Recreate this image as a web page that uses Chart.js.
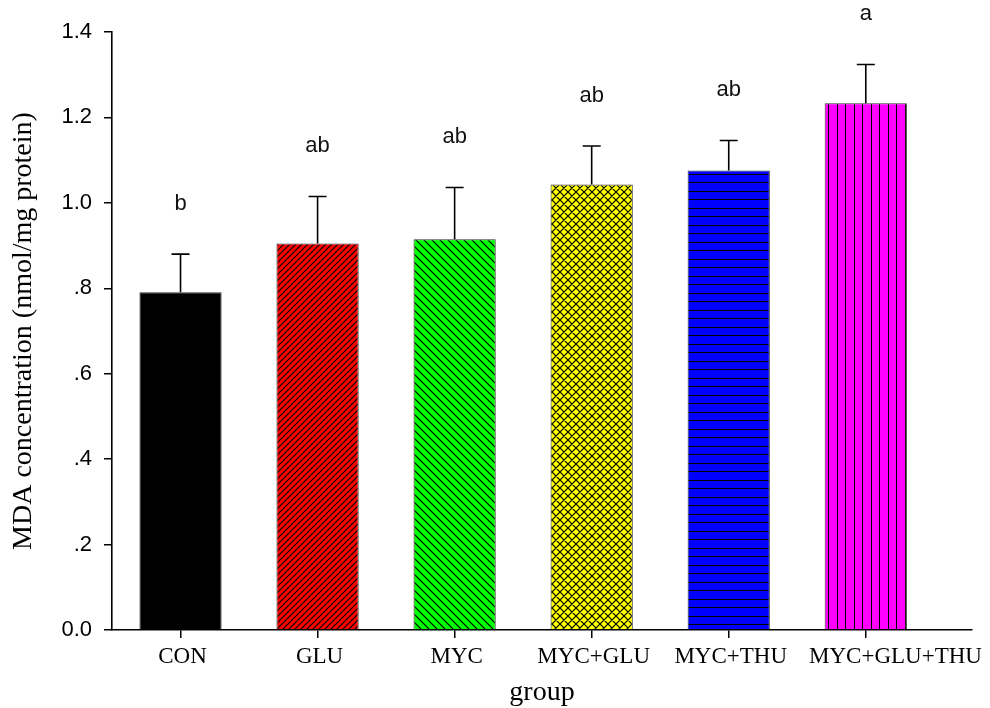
<!DOCTYPE html>
<html>
<head>
<meta charset="utf-8">
<title>MDA concentration by group</title>
<script src="https://cdn.jsdelivr.net/npm/chart.js@4"></script>
<style>
  html, body { margin: 0; padding: 0; background: #fff; }
  #wrap { width: 990px; height: 708px; position: relative; }
</style>
</head>
<body>
<div id="wrap"><canvas id="chart"></canvas></div>
<script>
// MDA concentration (nmol/mg protein), mean and upper error per group
const groups = ['CON', 'GLU', 'MYC', 'MYC+GLU', 'MYC+THU', 'MYC+GLU+THU'];
const means = [0.791, 0.905, 0.915, 1.043, 1.076, 1.233];
const errors = [0.089, 0.110, 0.121, 0.090, 0.070, 0.091];
const sigLetters = ['b', 'ab', 'ab', 'ab', 'ab', 'a'];
const yTickLabels = ['0.0', '.2', '.4', '.6', '.8', '1.0', '1.2', '1.4'];

const serif = '"Liberation Serif", "Times New Roman", serif';
const sans = '"Liberation Sans", Arial, sans-serif';

function makePattern(bg, size, lw, draw) {
  const c = document.createElement('canvas');
  c.width = size; c.height = size;
  const g = c.getContext('2d');
  g.fillStyle = bg;
  g.fillRect(0, 0, size, size);
  g.strokeStyle = '#000';
  g.lineWidth = lw;
  g.beginPath();
  draw(g, size);
  g.stroke();
  return g.createPattern(c, 'repeat');
}

function slash(g, s) {
  g.moveTo(0, s); g.lineTo(s, 0);
  g.moveTo(-2, 2); g.lineTo(2, -2);
  g.moveTo(s - 2, s + 2); g.lineTo(s + 2, s - 2);
}
function backslash(g, s) {
  g.moveTo(0, 0); g.lineTo(s, s);
  g.moveTo(s - 2, -2); g.lineTo(s + 2, 2);
  g.moveTo(-2, s - 2); g.lineTo(2, s + 2);
}

const fills = [
  '#000000',
  makePattern('#ff0000', 6, 1.2, slash),
  makePattern('#00ff00', 8, 1.2, backslash),
  makePattern('#ffff00', 8, 1.2, (g, s) => { slash(g, s); backslash(g, s); }),
  makePattern('#0000ff', 17, 1, (g, s) => {
    g.moveTo(0, 4.5); g.lineTo(s, 4.5);
    g.moveTo(0, 12.5); g.lineTo(s, 12.5);
  }),
  makePattern('#ff00ff', 17, 1, (g, s) => {
    g.moveTo(4.5, 0); g.lineTo(4.5, s);
    g.moveTo(12.5, 0); g.lineTo(12.5, s);
  })
];

// upward error bars, significance letters and group names under the axis
const errorBars = {
  id: 'errorBars',
  afterDatasetsDraw(chart) {
    const ctx = chart.ctx;
    const xs = chart.scales.x, ys = chart.scales.y;
    ctx.save();
    ctx.strokeStyle = '#000';
    ctx.lineWidth = 1.6;
    ctx.fillStyle = '#111';
    ctx.font = '22px ' + sans;
    ctx.textAlign = 'center';
    ctx.textBaseline = 'alphabetic';
    means.forEach((m, i) => {
      const x = xs.getPixelForValue(i + 1);
      const y0 = ys.getPixelForValue(m);
      const y1 = ys.getPixelForValue(m + errors[i]);
      ctx.beginPath();
      ctx.moveTo(x, y0); ctx.lineTo(x, y1);
      ctx.moveTo(x - 9, y1); ctx.lineTo(x + 9, y1);
      ctx.stroke();
      ctx.fillText(sigLetters[i], x, y1 - 44);
    });

    // names are centred on their tick, pushed right when they would collide
    ctx.fillStyle = '#000';
    ctx.font = '23px ' + serif;
    let prevRight = -Infinity;
    groups.forEach((g, i) => {
      const w = ctx.measureText(g).width;
      let x = xs.getPixelForValue(i + 1) + 2;
      if (x - w / 2 < prevRight + 22) x = prevRight + 22 + w / 2;
      ctx.fillText(g, x, xs.top + 33);
      prevRight = x + w / 2;
    });
    ctx.restore();
  }
};

new Chart(document.getElementById('chart'), {
  type: 'bar',
  data: {
    datasets: [{
      data: groups.map((g, i) => ({ x: i + 1, y: means[i] })),
      backgroundColor: fills,
      borderColor: '#333',
      borderWidth: 1,
      barPercentage: 0.6,
      categoryPercentage: 1.0
    }]
  },
  options: {
    responsive: true,
    maintainAspectRatio: false,
    animation: false,
    layout: { padding: { left: 0, top: 32, right: 18, bottom: 0 } },
    plugins: { legend: { display: false }, tooltip: { enabled: false } },
    scales: {
      x: {
        type: 'linear',
        offset: false,
        min: 0.5,
        max: 6.775,
        afterBuildTicks: s => { s.ticks = groups.map((g, i) => ({ value: i + 1 })); },
        afterFit: s => { s.height = 78; },
        ticks: { display: false },
        grid: { offset: false, drawOnChartArea: false, drawTicks: true, tickLength: 8, color: '#000', lineWidth: 1.5 },
        border: { display: true, color: '#000', width: 1.6 },
        title: {
          display: true,
          text: 'group',
          color: '#000',
          padding: { top: 0, bottom: -1 },
          font: { family: serif, size: 28 }
        }
      },
      y: {
        min: 0,
        max: 1.4,
        afterFit: s => { s.width = 112; },
        ticks: {
          stepSize: 0.2,
          padding: 12,
          color: '#000',
          font: { family: sans, size: 22 },
          callback: (v, i) => yTickLabels[i]
        },
        grid: { drawOnChartArea: false, drawTicks: true, tickLength: 8, color: '#000', lineWidth: 1.5 },
        border: { display: true, color: '#000', width: 1.6 },
        title: {
          display: true,
          text: 'MDA concentration (nmol/mg protein)',
          color: '#000',
          padding: { top: 7, bottom: 4 },
          font: { family: serif, size: 28 }
        }
      }
    }
  },
  plugins: [errorBars]
});
</script>
</body>
</html>
